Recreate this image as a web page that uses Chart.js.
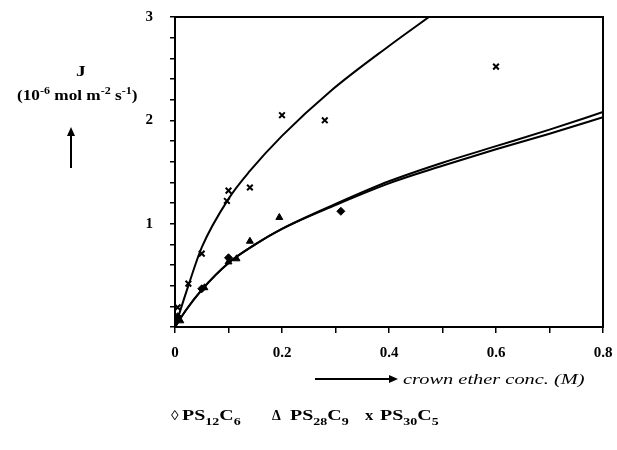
<!DOCTYPE html>
<html>
<head>
<meta charset="utf-8">
<script src="https://cdn.jsdelivr.net/npm/chart.js@4"></script>
<style>
  body { margin: 0; background: #fff; }
  canvas { display: block; }
</style>
</head>
<body>
<canvas id="fluxChart" width="617" height="450"></canvas>
<script>
// measured points
const ps12X = [0.005, 0.05, 0.1, 0.31];
const ps12Y = [0.1, 0.37, 0.67, 1.12];
const ps28X = [0.01, 0.055, 0.1, 0.115, 0.14, 0.195];
const ps28Y = [0.06, 0.38, 0.63, 0.66, 0.83, 1.06];
const ps30X = [0.005, 0.025, 0.05, 0.097, 0.1, 0.14, 0.2, 0.28, 0.6];
const ps30Y = [0.19, 0.42, 0.71, 1.22, 1.32, 1.35, 2.05, 2.0, 2.52];

// fitted curves
const fitX = [0, 0.02, 0.05, 0.1, 0.15, 0.2, 0.3, 0.4, 0.5, 0.6, 0.7, 0.8];
const fitA = [0, 0.16, 0.36, 0.62, 0.8, 0.95, 1.19, 1.41, 1.59, 1.75, 1.91, 2.08];
const fitB = [0, 0.16, 0.36, 0.62, 0.8, 0.95, 1.18, 1.39, 1.56, 1.72, 1.87, 2.03];
const upX = [0, 0.025, 0.05, 0.1, 0.14, 0.2, 0.29, 0.4, 0.48];
const upY = [0, 0.4, 0.77, 1.24, 1.51, 1.85, 2.28, 2.72, 3.02];

const xLabels = [0, 0.2, 0.4, 0.6, 0.8];
const yLabels = [1, 2, 3];

function pts(xs, ys) {
    return xs.map((x, i) => ({ x: x, y: ys[i] }));
}

const serif = '"Liberation Serif", "Times New Roman", serif';

// text runs with sub/superscripts, stretched sideways like the scan
function drawRuns(ctx, runs, x, y, size, style, sx) {
    ctx.save();
    ctx.translate(x, y);
    ctx.scale(sx, 1);
    ctx.fillStyle = '#000';
    ctx.textBaseline = 'alphabetic';
    ctx.textAlign = 'left';
    var cx = 0;
    runs.forEach(r => {
        var fs = r.s ? size * 0.7 : size;
        ctx.font = style + ' ' + fs + 'px ' + serif;
        var dy = r.s == 'sub' ? size * 0.3 : (r.s == 'sup' ? -size * 0.4 : 0);
        ctx.fillText(r.t, cx, dy);
        cx += ctx.measureText(r.t).width;
    });
    ctx.restore();
}

function arrow(ctx, x1, y1, x2, y2) {
    var a = Math.atan2(y2 - y1, x2 - x1);
    ctx.save();
    ctx.strokeStyle = '#000';
    ctx.fillStyle = '#000';
    ctx.lineWidth = 2;
    ctx.beginPath();
    ctx.moveTo(x1, y1);
    ctx.lineTo(x2 - 6 * Math.cos(a), y2 - 6 * Math.sin(a));
    ctx.stroke();
    ctx.translate(x2, y2);
    ctx.rotate(a);
    ctx.beginPath();
    ctx.moveTo(0, 0);
    ctx.lineTo(-9, -4);
    ctx.lineTo(-9, 4);
    ctx.closePath();
    ctx.fill();
    ctx.restore();
}

const decorations = {
    id: 'decorations',
    afterDraw(chart) {
        var ctx = chart.ctx;
        var a = chart.chartArea;
        ctx.save();
        ctx.strokeStyle = '#000';
        ctx.lineWidth = 2;
        ctx.strokeRect(a.left, a.top, a.right - a.left, a.bottom - a.top);
        ctx.restore();

        // y axis title
        drawRuns(ctx, [{ t: 'J' }], 76, 76, 15, 'bold', 1.3);
        drawRuns(ctx, [
            { t: '(10' }, { t: '-6', s: 'sup' }, { t: ' mol m' }, { t: '-2', s: 'sup' },
            { t: ' s' }, { t: '-1', s: 'sup' }, { t: ')' }
        ], 17, 100, 14, 'bold', 1.23);
        arrow(ctx, 71, 168, 71, 127);

        // x axis title
        arrow(ctx, 315, 379, 398, 379);
        drawRuns(ctx, [{ t: 'crown ether conc. (M)' }], 403, 384, 15, 'italic', 1.36);

        // legend
        var ly = 420;
        drawRuns(ctx, [{ t: '\u25CA' }], 171, ly, 14, 'bold', 1.1);
        drawRuns(ctx, [{ t: 'PS' }, { t: '12', s: 'sub' }, { t: 'C' }, { t: '6', s: 'sub' }], 182, ly, 15, 'bold', 1.33);
        drawRuns(ctx, [{ t: '\u0394' }], 272, ly, 14, 'bold', 1.0);
        drawRuns(ctx, [{ t: 'PS' }, { t: '28', s: 'sub' }, { t: 'C' }, { t: '9', s: 'sub' }], 290, ly, 15, 'bold', 1.33);
        drawRuns(ctx, [{ t: 'x' }], 365, ly, 15, 'bold', 1.1);
        drawRuns(ctx, [{ t: 'PS' }, { t: '30', s: 'sub' }, { t: 'C' }, { t: '5', s: 'sub' }], 380, ly, 15, 'bold', 1.33);
    }
};

function onList(v, list) {
    return list.find(l => Math.abs(l - v) < 1e-6);
}

const config = {
    type: 'scatter',
    data: {
        datasets: [{
            label: 'fit 1',
            data: pts(fitX, fitA),
            showLine: true,
            borderColor: '#000',
            borderWidth: 2,
            pointRadius: 0,
            cubicInterpolationMode: 'monotone'
        }, {
            label: 'fit 2',
            data: pts(fitX, fitB),
            showLine: true,
            borderColor: '#000',
            borderWidth: 2,
            pointRadius: 0,
            cubicInterpolationMode: 'monotone'
        }, {
            label: 'fit PS30C5',
            data: pts(upX, upY),
            showLine: true,
            borderColor: '#000',
            borderWidth: 2,
            pointRadius: 0,
            cubicInterpolationMode: 'monotone'
        }, {
            label: 'PS12C6',
            data: pts(ps12X, ps12Y),
            pointStyle: 'rectRot',
            pointRadius: 4,
            backgroundColor: '#000',
            borderColor: '#000',
            borderWidth: 1
        }, {
            label: 'PS28C9',
            data: pts(ps28X, ps28Y),
            pointStyle: 'triangle',
            pointRadius: 4,
            backgroundColor: '#000',
            borderColor: '#000',
            borderWidth: 1
        }, {
            label: 'PS30C5',
            data: pts(ps30X, ps30Y),
            pointStyle: 'crossRot',
            pointRadius: 4,
            backgroundColor: '#000',
            borderColor: '#000',
            borderWidth: 2
        }]
    },
    options: {
        responsive: false,
        animation: false,
        events: [],
        layout: { padding: { left: 0, right: 14, top: 17, bottom: 0 } },
        plugins: {
            legend: { display: false },
            tooltip: { enabled: false }
        },
        scales: {
            x: {
                type: 'linear',
                min: 0,
                max: 0.8,
                afterFit(scale) {
                    scale.height = 123;
                    scale.paddingLeft = 0;
                    scale.paddingRight = 0;
                },
                border: { display: true, color: '#000', width: 2 },
                grid: { drawOnChartArea: false, drawTicks: true, tickLength: 6, color: '#000', lineWidth: 1.5 },
                ticks: {
                    stepSize: 0.1,
                    autoSkip: false,
                    maxRotation: 0,
                    padding: 11,
                    color: '#000',
                    font: { family: serif, size: 15, weight: 'bold' },
                    callback: function (v) {
                        var l = onList(v, xLabels);
                        if (l === undefined) return '';
                        return l === 0 ? '0' : l.toFixed(1);
                    }
                }
            },
            y: {
                type: 'linear',
                min: 0,
                max: 3,
                afterFit(scale) {
                    scale.width = 175;
                    scale.paddingTop = 0;
                    scale.paddingBottom = 0;
                },
                border: { display: true, color: '#000', width: 2 },
                grid: { drawOnChartArea: false, drawTicks: true, tickLength: 5, color: '#000', lineWidth: 1.5 },
                ticks: {
                    stepSize: 0.2,
                    autoSkip: false,
                    padding: 17,
                    color: '#000',
                    font: { family: serif, size: 15, weight: 'bold' },
                    callback: function (v) {
                        var l = onList(v, yLabels);
                        return l === undefined ? '' : String(l);
                    }
                }
            }
        }
    },
    plugins: [decorations]
};

const fluxChart = new Chart(document.getElementById('fluxChart'), config);
</script>
</body>
</html>
